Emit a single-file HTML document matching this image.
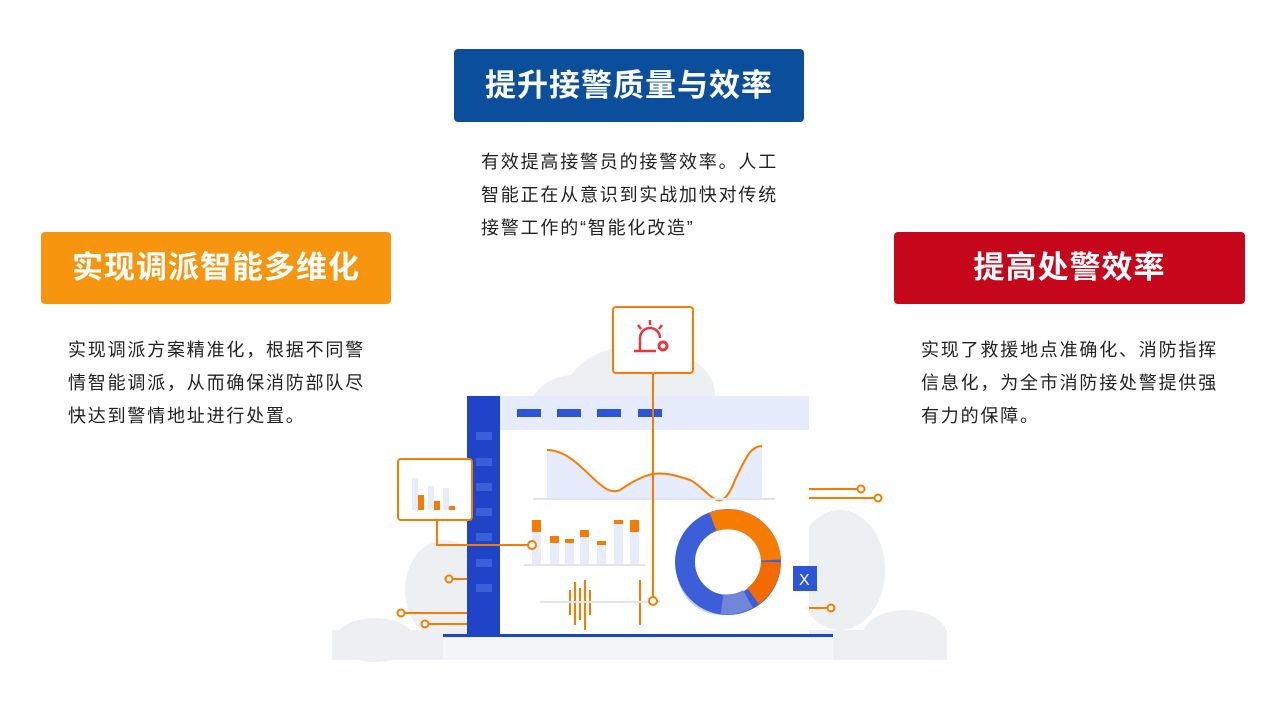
<!DOCTYPE html>
<html><head><meta charset="utf-8"><style>
body{margin:0;width:1280px;height:718px;background:#fff;position:relative;overflow:hidden;font-family:"Liberation Sans","Noto Sans CJK SC",sans-serif}
.h{position:absolute;color:#fff;font-weight:bold;font-size:31px;text-align:center;border-radius:4px;letter-spacing:1px}
.t{position:absolute;font-size:18px;letter-spacing:1.8px;line-height:33px;color:#222;width:300px}
</style></head><body>
<div class="h" style="left:454px;top:49px;width:350px;height:73px;line-height:73px;background:#0b4f9c">提升接警质量与效率</div>
<div class="h" style="left:41px;top:232px;width:350px;height:72px;line-height:72px;background:#f7950f">实现调派智能多维化</div>
<div class="h" style="left:894px;top:232px;width:351px;height:72px;line-height:72px;background:#c5061b">提高处警效率</div>
<div class="t" style="left:481px;top:146px">有效提高接警员的接警效率。人工智能正在从意识到实战加快对传统接警工作的“智能化改造”</div>
<div class="t" style="left:68px;top:334px">实现调派方案精准化，根据不同警情智能调派，从而确保消防部队尽快达到警情地址进行处置。</div>
<div class="t" style="left:921px;top:334px">实现了救援地点准确化、消防指挥信息化，为全市消防接处警提供强有力的保障。</div>
<svg style="position:absolute;left:0;top:0" width="1280" height="718">
<g fill="#edf0f3">
<ellipse cx="640" cy="395" rx="75" ry="50"/><ellipse cx="575" cy="410" rx="45" ry="35"/>
<ellipse cx="840" cy="570" rx="45" ry="60"/><ellipse cx="905" cy="635" rx="42" ry="25"/>
<ellipse cx="445" cy="590" rx="40" ry="50"/><ellipse cx="375" cy="640" rx="40" ry="22"/>
<rect x="332" y="630" width="615" height="30"/></g>
<rect x="443" y="636" width="390" height="24" fill="#f3f5f7"/>
<rect x="467" y="396" width="342" height="240" fill="#fff"/>
<rect x="500" y="396" width="309" height="34" fill="#e6ecfb"/>
<rect x="467" y="396" width="33" height="240" fill="#1f44c8"/>
<g fill="#3b5fd6"><rect x="476" y="432" width="16" height="8"/><rect x="476" y="458" width="16" height="8"/><rect x="476" y="483" width="16" height="8"/><rect x="476" y="508" width="16" height="8"/><rect x="476" y="533" width="16" height="8"/><rect x="476" y="559" width="16" height="8"/><rect x="476" y="584" width="16" height="8"/></g>
<g fill="#2d55d8"><rect x="517" y="409" width="24" height="8"/><rect x="557" y="409" width="24" height="8"/><rect x="597" y="409" width="24" height="8"/><rect x="638" y="409" width="24" height="8"/></g>
<rect x="443" y="634" width="390" height="3" fill="#1f44c8"/>
<path d="M547 450 C580 450,600 500,620 490 C650 470,660 470,690 480 C710 490,720 520,735 480 C745 460,750 446,762 446 L762 498 L547 498Z" fill="#e6ecfb"/>
<path d="M547 450 C580 450,600 500,620 490 C650 470,660 470,690 480 C710 490,720 520,735 480 C745 460,750 446,762 446" fill="none" stroke="#f57c00" stroke-width="2"/>
<line x1="533" y1="499" x2="775" y2="499" stroke="#dde4f6" stroke-width="2"/>
<g fill="#e6ecfb"><rect x="532" y="520" width="9" height="44"/><rect x="550" y="536" width="9" height="28"/><rect x="565" y="539" width="9" height="25"/><rect x="580" y="530" width="9" height="34"/><rect x="597" y="541" width="9" height="23"/><rect x="614" y="520" width="9" height="44"/><rect x="630" y="520" width="9" height="44"/></g>
<g fill="#f57c00"><rect x="532" y="520" width="9" height="12"/><rect x="550" y="536" width="9" height="7"/><rect x="565" y="539" width="9" height="4"/><rect x="580" y="530" width="9" height="7"/><rect x="597" y="541" width="9" height="4"/><rect x="614" y="520" width="9" height="4"/><rect x="630" y="520" width="9" height="12"/></g>
<line x1="524" y1="565" x2="645" y2="565" stroke="#dde4f6" stroke-width="2"/>
<g stroke="#f57c00" stroke-width="2"><line x1="570" y1="590" x2="570" y2="615"/><line x1="575" y1="582" x2="575" y2="625"/><line x1="580" y1="588" x2="580" y2="620"/><line x1="585" y1="580" x2="585" y2="630"/><line x1="590" y1="590" x2="590" y2="615"/><line x1="640" y1="580" x2="640" y2="625"/></g>
<line x1="540" y1="602" x2="660" y2="602" stroke="#dde4f6" stroke-width="2"/>
<circle cx="722" cy="570" r="45" fill="#c3cae9"/>
<circle cx="728" cy="562" r="52" fill="#fff"/>
<circle cx="728" cy="562" r="43" fill="none" stroke="#3c5fd9" stroke-width="20"/>
<path d="M713 522 A43 43 0 0 1 771 560" fill="none" stroke="#f57c00" stroke-width="20"/>
<path d="M771 562 A43 43 0 0 1 753 596" fill="none" stroke="#f26a00" stroke-width="20"/>
<path d="M748 599 A43 43 0 0 1 722 604" fill="none" stroke="#7186d8" stroke-width="20"/>
<rect x="793" y="566" width="24" height="25" fill="#2d55d8"/>
<text x="799" y="585" fill="#fff" font-size="16" font-family="Liberation Sans">X</text>
<g stroke="#f57c00" stroke-width="2" fill="#fff">
<rect x="613" y="307" width="80" height="66" rx="3"/>
<line x1="653" y1="373" x2="653" y2="600"/><circle cx="653" cy="601" r="4"/>
<rect x="398" y="459" width="74" height="61" rx="3" fill="#fff"/>
<polyline points="437,520 437,545 530,545" fill="none"/><circle cx="532" cy="545" r="4"/>
<line x1="809" y1="489" x2="858" y2="489"/><circle cx="861" cy="489" r="3.5"/>
<line x1="809" y1="498" x2="875" y2="498"/><circle cx="878" cy="498" r="3.5"/>
<line x1="809" y1="608" x2="828" y2="608"/><circle cx="831" cy="608" r="3.5"/>
<line x1="452" y1="579" x2="467" y2="579"/><circle cx="449" cy="579" r="3.5"/>
<line x1="404" y1="613" x2="467" y2="613"/><circle cx="401" cy="613" r="3.5"/>
<line x1="428" y1="624" x2="467" y2="624"/><circle cx="425" cy="624" r="3.5"/>
</g>
<g fill="#e6ecfb"><rect x="412" y="478" width="6" height="32"/><rect x="428" y="486" width="6" height="24"/><rect x="443" y="488" width="6" height="22"/></g>
<g fill="#f57c00"><rect x="418" y="495" width="6" height="15"/><rect x="434" y="501" width="6" height="9"/><rect x="449" y="506" width="6" height="4"/></g>
<g stroke="#e8383d" stroke-width="2.5" fill="none"><path d="M640 350 L640 338 A10 10 0 0 1 660 338"/><line x1="634" y1="351" x2="656" y2="351"/><line x1="650" y1="320" x2="650" y2="325"/><line x1="638" y1="325" x2="641" y2="329"/><line x1="662" y1="325" x2="659" y2="329"/></g>
<circle cx="663" cy="346" r="4" fill="none" stroke="#e8383d" stroke-width="3"/>
</svg>
</body></html>
